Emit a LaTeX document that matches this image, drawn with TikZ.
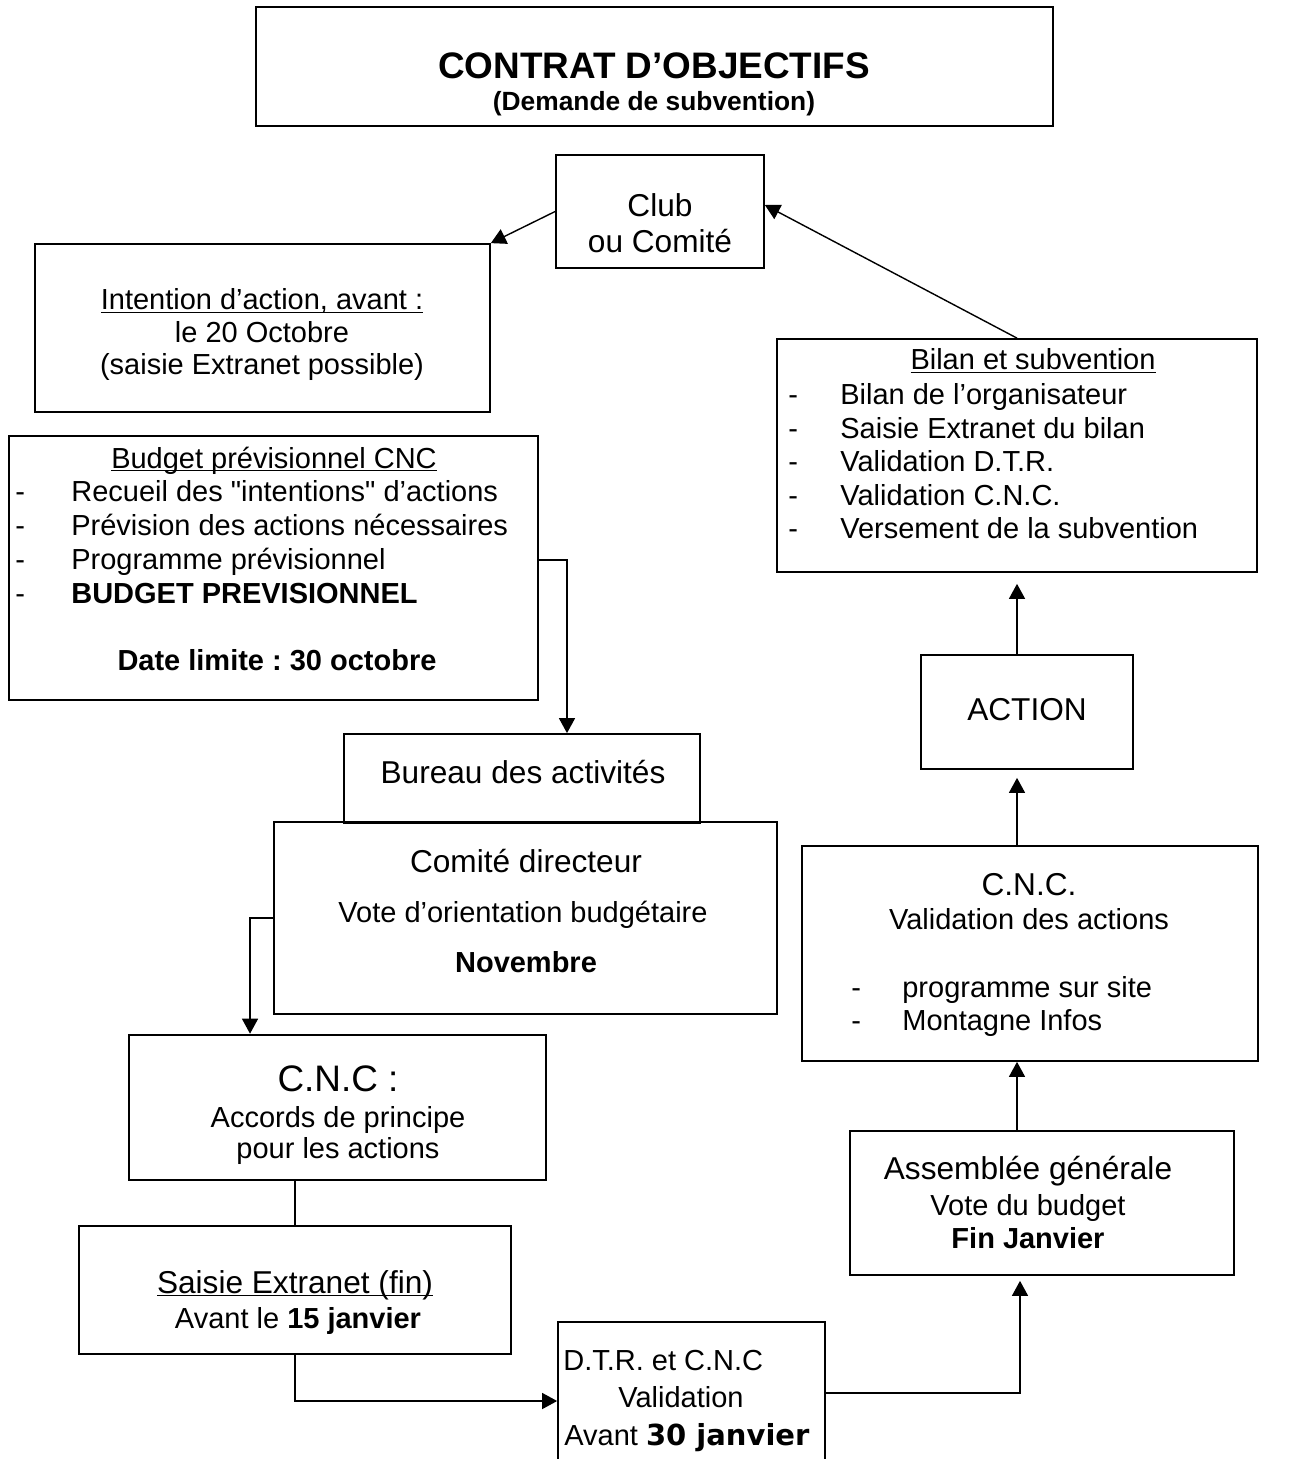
\documentclass[tikz,border=0pt]{standalone}
\usepackage{fontspec}
\setmainfont{Liberation Sans}
\newfontfamily\verd{DejaVu Sans}
\usetikzlibrary{arrows.meta}
\frenchspacing

\tikzset{
  box/.style={draw, line width=1pt, inner sep=0pt},
  txt/.style={anchor=base, inner sep=0pt, font=\fontsize{16.5}{19.3}\selectfont},
  big/.style={txt, font=\fontsize{18}{21}\selectfont},
  bold/.style={txt, font=\fontsize{16.5}{19.3}\selectfont\bfseries},
  item/.style={txt, anchor=base west},
  arr/.style={line width=0.8pt, -{Triangle[length=0.3cm,width=0.32cm]}},
}
\newcommand{\souligne}[1]{\underline{\smash{#1}}}

\begin{document}
\begin{tikzpicture}[x=0.02cm, y=-0.02cm]
  \useasboundingbox (0,0) rectangle (1289,1459);
  \clip (0,0) rectangle (1289,1459);

  % boites
  \node[box, minimum width=15.94cm, minimum height=2.38cm] (titre) at (654.5,66.5) {};
  \node[box, minimum width=4.16cm, minimum height=2.26cm] (club) at (660,211.5) {};
  \node[box, minimum width=9.1cm, minimum height=3.36cm] (intent) at (262.5,328) {};
  \node[box, minimum width=10.58cm, minimum height=5.28cm] (budget) at (273.5,568) {};
  \node[box, minimum width=7.12cm, minimum height=1.78cm] (bureau) at (522,778.5) {};
  \node[box, minimum width=10.06cm, minimum height=3.84cm] (comdir) at (525.5,918) {};
  \node[box, line width=1.5pt, minimum width=8.34cm, minimum height=2.9cm] (cncacc) at (337.5,1107.5) {};
  \node[box, minimum width=8.64cm, minimum height=2.56cm] (saisie) at (295,1290) {};
  \node[box, minimum width=5.34cm, minimum height=3.16cm] (dtr) at (691.5,1401) {};
  \node[box, minimum width=7.68cm, minimum height=2.88cm] (ag) at (1042,1203) {};
  \node[box, minimum width=9.12cm, minimum height=4.3cm] (cncval) at (1030,953.5) {};
  \node[box, minimum width=4.24cm, minimum height=2.28cm] (action) at (1027,712) {};
  \node[box, minimum width=9.6cm, minimum height=4.66cm] (bilan) at (1017,455.5) {};

  % textes
  \node[txt, font=\fontsize{21}{25}\selectfont\bfseries] (titre-a) at (654,79) {CONTRAT D’OBJECTIFS};
  \node[txt, font=\fontsize{15}{18}\selectfont\bfseries] (titre-b) at (654,111) {(Demande de subvention)};

  \node[big] (club-a) at (660,217) {Club};
  \node[big] (club-b) at (660,253) {ou Comité};

  \node[txt] (int-a) at (262,310) {\souligne{Intention d’action, avant :}};
  \node[txt] (int-b) at (262,343) {le 20 Octobre};
  \node[txt] (int-c) at (262,375) {(saisie Extranet possible)};

  \node[txt] (bud-0) at (274,468) {\souligne{Budget prévisionnel CNC}};
  \foreach \t [count=\i] in {Recueil des \textquotedbl intentions\textquotedbl{} d’actions, Prévision des actions nécessaires, Programme prévisionnel, \textbf{BUDGET PREVISIONNEL}} {
    \node[item] (bud-d\i) at (15,468+33.9*\i) {-};
    \node[item] (bud-\i) at (71,468+33.9*\i) {\t};
  }
  \node[bold] (bud-date) at (277,670) {Date limite : 30 octobre};

  \node[big] (bur-a) at (523,783) {Bureau des activités};
  \node[big] (dir-a) at (526,872) {Comité directeur};
  \node[txt] (dir-b) at (523,922) {Vote d’orientation budgétaire};
  \node[bold] (dir-c) at (526,972) {Novembre};

  \node[txt, font=\fontsize{21}{25}\selectfont] (acc-a) at (338,1091) {C.N.C :};
  \node[txt] (acc-b) at (338,1127) {Accords de principe};
  \node[txt] (acc-c) at (338,1158) {pour les actions};

  \node[big] (sai-a) at (295,1293) {\souligne{Saisie Extranet (fin)}};
  \node[txt] (sai-b) at (298,1328) {Avant le \textbf{15 janvier}};

  \node[item] (dtr-a) at (563,1370) {D.T.R. et C.N.C};
  \node[txt] (dtr-b) at (681,1407) {Validation};
  \node[item] (dtr-c) at (564,1445) {Avant {\verd\fontsize{16.5}{19}\selectfont\bfseries 30 janvier}};

  \node[big] (ag-a) at (1028,1179) {Assemblée générale};
  \node[txt] (ag-b) at (1028,1215) {Vote du budget};
  \node[bold] (ag-c) at (1028,1248) {Fin Janvier};

  \node[big] (val-a) at (1029,895) {C.N.C.};
  \node[txt] (val-b) at (1029,929) {Validation des actions};
  \foreach \t [count=\i] in {programme sur site, Montagne Infos} {
    \node[item] (val-d\i) at (851,963.5+33.5*\i) {-};
    \node[item] (val-\i) at (902,963.5+33.5*\i) {\t};
  }

  \node[big] (act-a) at (1027,720) {ACTION};

  \node[txt] (bil-0) at (1033,370) {\souligne{Bilan et subvention}};
  \foreach \t [count=\i] in {Bilan de l’organisateur, Saisie Extranet du bilan, Validation D.T.R., Validation C.N.C., Versement de la subvention} {
    \node[item] (bil-d\i) at (788,371.5+33.4*\i) {-};
    \node[item] (bil-\i) at (840,371.5+33.4*\i) {\t};
  }

  % fleches
  \draw[arr] (club.west) -- (intent.north east);
  \draw[arr] (bilan.north) -- ([yshift=0.13cm]club.east);
  \draw[arr] ([yshift=0.16cm]budget.east) -| ([xshift=0.9cm]bureau.north);
  \draw[arr] (comdir.west) -| ([xshift=-1.75cm]cncacc.north);
  \draw[line width=0.8pt] (cncacc.south -| saisie.north) -- (saisie.north);
  \draw[arr] (saisie.south) |- (dtr.west);
  \draw[arr, shorten >=0.1cm] ([yshift=0.16cm]dtr.east) -| ([xshift=-0.44cm]ag.south);
  \draw[arr] (ag.north -| bilan.south) -- (cncval.south -| bilan.south);
  \draw[arr, shorten >=0.16cm] (cncval.north -| bilan.south) -- (action.south -| bilan.south);
  \draw[arr, shorten >=0.22cm] (action.north -| bilan.south) -- (bilan.south);
\end{tikzpicture}
\end{document}
